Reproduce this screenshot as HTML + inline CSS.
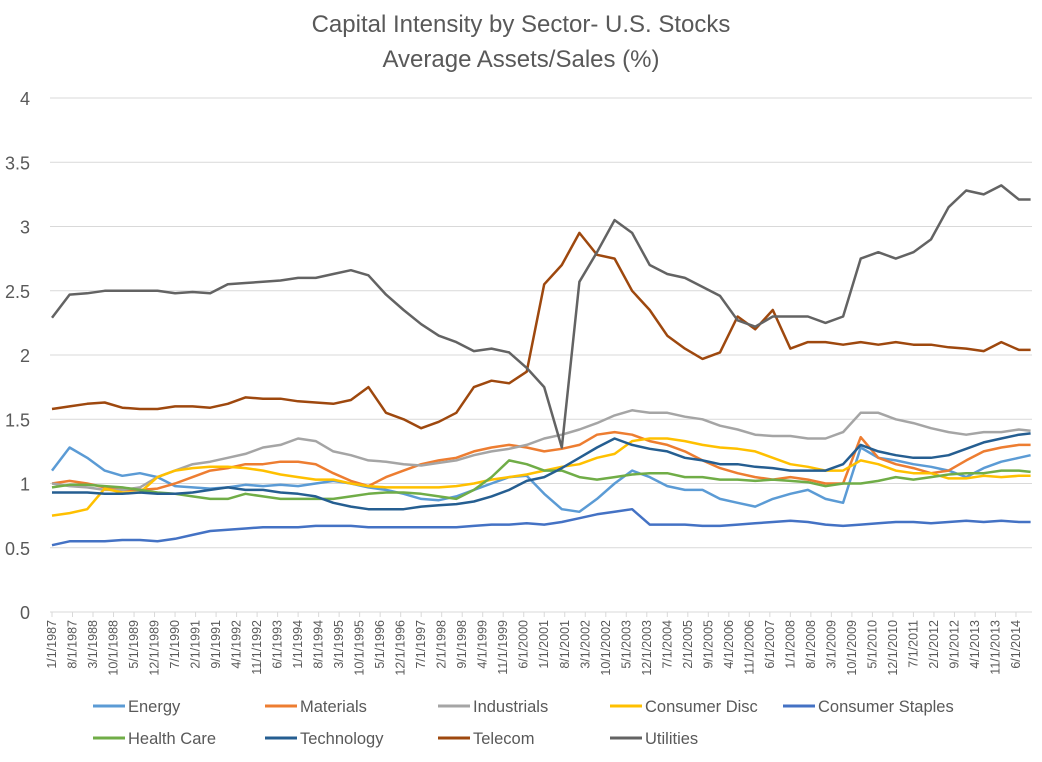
<!DOCTYPE html>
<html><head><meta charset="utf-8">
<style>
body{margin:0;background:#fff;font-family:"Liberation Sans",sans-serif;}
svg text{font-family:"Liberation Sans",sans-serif;fill:#595959;}
</style></head>
<body>
<svg id="chart" width="1042" height="757" viewBox="0 0 1042 757" xmlns="http://www.w3.org/2000/svg">
<rect width="1042" height="757" fill="#fff"/>
<text x="521" y="32" font-size="24" text-anchor="middle">Capital Intensity by Sector- U.S. Stocks</text>
<text x="521" y="67" font-size="24" text-anchor="middle">Average Assets/Sales (%)</text>
<g id="grid"></g>
<g id="yaxis"></g>
<g id="xaxis"></g>
<g id="series"></g>
<g id="legend"></g>
</svg>
<script>
const yTicks=[0,0.5,1,1.5,2,2.5,3,3.5,4];
const yTickLabels=["0","0.5","1","1.5","2","2.5","3","3.5","4"];
const xTickLabels=(function(){const a=[];let y=1987,m=1;for(let i=0;i<48;i++){a.push(m+"/1/"+y);m+=7;if(m>12){m-=12;y++;}}return a;})();
const sampleMonths=[0,6,12,18,24,30,36,42,48,54,60,66,72,78,84,90,96,102,108,114,120,126,132,138,144,150,156,162,168,174,180,186,192,198,204,210,216,222,228,234,240,246,252,258,264,270,276,282,288,294,300,306,312,318,324,330,334];
const energy=[1.1,1.28,1.2,1.1,1.06,1.08,1.05,0.98,0.97,0.96,0.97,0.99,0.98,0.99,0.98,1.0,1.02,1.0,0.97,0.95,0.92,0.88,0.87,0.9,0.95,1.0,1.05,1.06,0.92,0.8,0.78,0.88,1.0,1.1,1.05,0.98,0.95,0.95,0.88,0.85,0.82,0.88,0.92,0.95,0.88,0.85,1.28,1.2,1.18,1.15,1.13,1.1,1.05,1.12,1.17,1.2,1.22];
const materials=[1.0,1.02,1.0,0.97,0.95,0.95,0.96,1.0,1.05,1.1,1.12,1.15,1.15,1.17,1.17,1.15,1.08,1.02,0.98,1.05,1.1,1.15,1.18,1.2,1.25,1.28,1.3,1.28,1.25,1.27,1.3,1.38,1.4,1.38,1.33,1.3,1.25,1.18,1.12,1.08,1.05,1.03,1.05,1.03,1.0,1.0,1.36,1.2,1.15,1.12,1.08,1.1,1.18,1.25,1.28,1.3,1.3];
const industrials=[1.0,0.98,0.97,0.95,0.95,0.97,1.05,1.1,1.15,1.17,1.2,1.23,1.28,1.3,1.35,1.33,1.25,1.22,1.18,1.17,1.15,1.14,1.16,1.18,1.22,1.25,1.27,1.3,1.35,1.38,1.42,1.47,1.53,1.57,1.55,1.55,1.52,1.5,1.45,1.42,1.38,1.37,1.37,1.35,1.35,1.4,1.55,1.55,1.5,1.47,1.43,1.4,1.38,1.4,1.4,1.42,1.41];
const consumerDisc=[0.75,0.77,0.8,0.96,0.93,0.93,1.05,1.1,1.12,1.13,1.13,1.12,1.1,1.07,1.05,1.03,1.03,1.0,0.98,0.97,0.97,0.97,0.97,0.98,1.0,1.03,1.05,1.07,1.1,1.13,1.15,1.2,1.23,1.33,1.35,1.35,1.33,1.3,1.28,1.27,1.25,1.2,1.15,1.13,1.1,1.1,1.18,1.15,1.1,1.08,1.08,1.04,1.04,1.06,1.05,1.06,1.06];
const consumerStaples=[0.52,0.55,0.55,0.55,0.56,0.56,0.55,0.57,0.6,0.63,0.64,0.65,0.66,0.66,0.66,0.67,0.67,0.67,0.66,0.66,0.66,0.66,0.66,0.66,0.67,0.68,0.68,0.69,0.68,0.7,0.73,0.76,0.78,0.8,0.68,0.68,0.68,0.67,0.67,0.68,0.69,0.7,0.71,0.7,0.68,0.67,0.68,0.69,0.7,0.7,0.69,0.7,0.71,0.7,0.71,0.7,0.7];
const healthCare=[0.97,0.99,0.99,0.98,0.97,0.95,0.93,0.92,0.9,0.88,0.88,0.92,0.9,0.88,0.88,0.88,0.88,0.9,0.92,0.93,0.93,0.92,0.9,0.88,0.95,1.05,1.18,1.15,1.1,1.1,1.05,1.03,1.05,1.07,1.08,1.08,1.05,1.05,1.03,1.03,1.02,1.03,1.02,1.01,0.98,1.0,1.0,1.02,1.05,1.03,1.05,1.07,1.08,1.08,1.1,1.1,1.09];
const technology=[0.93,0.93,0.93,0.92,0.92,0.93,0.92,0.92,0.93,0.95,0.97,0.95,0.95,0.93,0.92,0.9,0.85,0.82,0.8,0.8,0.8,0.82,0.83,0.84,0.86,0.9,0.95,1.02,1.05,1.12,1.2,1.28,1.35,1.3,1.27,1.25,1.2,1.18,1.15,1.15,1.13,1.12,1.1,1.1,1.1,1.15,1.3,1.25,1.22,1.2,1.2,1.22,1.27,1.32,1.35,1.38,1.39];
const telecom=[1.58,1.6,1.62,1.63,1.59,1.58,1.58,1.6,1.6,1.59,1.62,1.67,1.66,1.66,1.64,1.63,1.62,1.65,1.75,1.55,1.5,1.43,1.48,1.55,1.75,1.8,1.78,1.87,2.55,2.7,2.95,2.78,2.75,2.5,2.35,2.15,2.05,1.97,2.02,2.3,2.2,2.35,2.05,2.1,2.1,2.08,2.1,2.08,2.1,2.08,2.08,2.06,2.05,2.03,2.1,2.04,2.04];
const utilities=[2.29,2.47,2.48,2.5,2.5,2.5,2.5,2.48,2.49,2.48,2.55,2.56,2.57,2.58,2.6,2.6,2.63,2.66,2.62,2.47,2.35,2.24,2.15,2.1,2.03,2.05,2.02,1.9,1.75,1.28,2.57,2.8,3.05,2.95,2.7,2.63,2.6,2.53,2.46,2.27,2.22,2.3,2.3,2.3,2.25,2.3,2.75,2.8,2.75,2.8,2.9,3.15,3.28,3.25,3.32,3.21,3.21];
const seriesNames=["Energy","Materials","Industrials","Consumer Disc","Consumer Staples","Health Care","Technology","Telecom","Utilities"];
const seriesData=[energy,materials,industrials,consumerDisc,consumerStaples,healthCare,technology,telecom,utilities];
const colors=["#5b9bd5","#ed7d31","#a5a5a5","#ffc000","#4472c4","#70ad47","#255e91","#9e480e","#636363"];

const NS="http://www.w3.org/2000/svg";
const X0=52,PXM=2.93,Y0=612,PXV=128.5;
function xs(m){return X0+m*PXM;}
function ys(v){return Y0-v*PXV;}
function mk(t,attrs,parent){const e=document.createElementNS(NS,t);for(const k in attrs)e.setAttribute(k,attrs[k]);parent.appendChild(e);return e;}
const grid=document.getElementById('grid'),yax=document.getElementById('yaxis'),xax=document.getElementById('xaxis'),ser=document.getElementById('series'),leg=document.getElementById('legend');
yTicks.forEach((v,i)=>{
  if(v>0){const l=mk('line',{x1:50,x2:1032,y1:ys(v),y2:ys(v),stroke:'#d9d9d9','stroke-width':1},grid);
  
  }
  const t=mk('text',{x:30,y:ys(v)+7,'font-size':18,'text-anchor':'end'},yax);
  t.textContent=yTickLabels[i];
  
  
});
const ax=mk('line',{x1:50,x2:1032,y1:Y0,y2:Y0,stroke:'#d9d9d9','stroke-width':1},xax);


xTickLabels.forEach((lab,i)=>{
  const x=xs(i*7);
  const tk=mk('line',{x1:x,x2:x,y1:Y0,y2:Y0+5,stroke:'#d9d9d9'},xax);
  
  
  const t=mk('text',{x:0,y:0,'font-size':12.5,'text-anchor':'end',transform:`translate(${x+4},${Y0+8}) rotate(-90)`},xax);
  t.textContent=lab;
  
  
});
seriesData.forEach((d,si)=>{
  const pts=d.map((v,i)=>xs(sampleMonths[i]).toFixed(1)+','+ys(v).toFixed(1)).join(' ');
  const p=mk('polyline',{points:pts,fill:'none',stroke:colors[si],'stroke-width':2.5,'stroke-linejoin':'round'},ser);
  
  
});
const legPos=[[93,706],[265,706],[438,706],[610,706],[783,706],[93,738],[265,738],[438,738],[610,738]];
seriesNames.forEach((n,i)=>{
  const [x,y]=legPos[i];
  const l=mk('line',{x1:x,x2:x+32,y1:y,y2:y,stroke:colors[i],'stroke-width':3},leg);
  
  
  const t=mk('text',{x:x+35,y:y+6,'font-size':16.5},leg);
  t.textContent=n;
  
  
});
</script>
</body></html>
